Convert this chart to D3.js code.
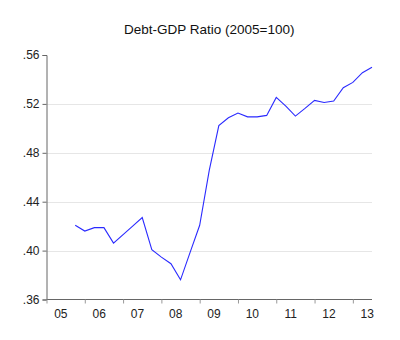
<!DOCTYPE html>
<html><head><meta charset="utf-8">
<script src="https://cdn.jsdelivr.net/npm/d3@7"></script>
<style>body{margin:0;background:#fff}</style>
</head><body>
<svg id="c" width="400" height="340"></svg>
<script>
const title = "Debt-GDP Ratio (2005=100)";
const startYear = 2005, startQuarter = 4;
const values = [0.4207,0.4160,0.4188,0.4188,0.4061,0.4131,0.4200,0.4270,0.4007,0.3947,0.3893,0.3761,0.3985,0.4207,0.4657,0.5022,0.5086,0.5125,0.5094,0.5094,0.5106,0.5253,0.5182,0.5100,0.5163,0.5229,0.5212,0.5223,0.5332,0.5376,0.5455,0.5499];
const yTicks = [0.36,0.40,0.44,0.48,0.52,0.56];
const gridTicks = [0.40,0.44,0.48,0.52];
const yearLabels = ["05","06","07","08","09","10","11","12","13"];

const data = values.map((v,k)=>({i:(startQuarter-1)+k, v}));
const svg = d3.select("#c");
const L=46.5, R=372, T=55, B=299.5;
const x = d3.scaleLinear().domain([0,34]).range([L,R]);
const y = d3.scaleLinear().domain([0.36,0.56]).range([B,T]);
const font = "Liberation Sans, Arial, sans-serif";

svg.append("g").selectAll("line").data(gridTicks).join("line")
  .attr("x1",L).attr("x2",R).attr("y1",d=>Math.round(y(d))+0.5).attr("y2",d=>Math.round(y(d))+0.5)
  .attr("stroke","#e6e6e6").attr("stroke-width",1);

// y axis
const ya = svg.append("g").attr("transform",`translate(${L},0)`)
  .call(d3.axisLeft(y).tickValues(yTicks).tickSize(4).tickPadding(3).tickFormat(d=>d3.format(".2f")(d).replace(/^0/,"")));
ya.select(".domain").attr("stroke","#666");
ya.selectAll(".tick line").attr("stroke","#666");
ya.selectAll("text").attr("font-family",font).attr("font-size","12px").attr("fill","#222");

// x axis
const xa = svg.append("g").attr("transform",`translate(0,${B})`)
  .call(d3.axisBottom(x).tickValues(d3.range(0,36,4)).tickSize(4).tickFormat(""));
xa.select(".domain").attr("stroke","#666").attr("d",`M${L},0H${R}`);
xa.selectAll(".tick line").attr("stroke","#999");
svg.append("g").selectAll("text").data(yearLabels).join("text")
  .attr("x",(d,k)=>x(k*4+1.5)).attr("y",B+18).attr("text-anchor","middle")
  .attr("font-family",font).attr("font-size","12px").attr("fill","#222").text(d=>d);

svg.append("path").datum(data)
  .attr("d",d3.line().x(d=>x(d.i)).y(d=>y(d.v)))
  .attr("fill","none").attr("stroke","#2a2aff").attr("stroke-width",1.1);

svg.append("text").attr("x",(L+R)/2).attr("y",34).attr("text-anchor","middle")
  .attr("font-family",font).attr("font-size","13.5px").attr("fill","#111").text(title);
</script>
</body></html>
